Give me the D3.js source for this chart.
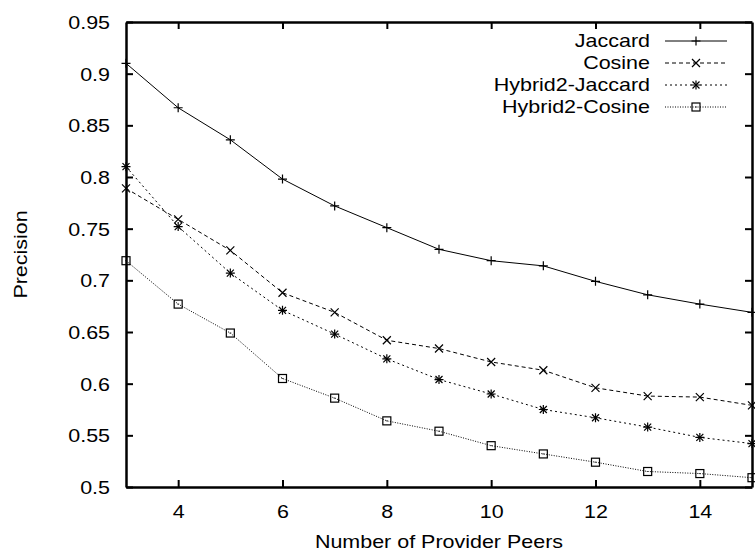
<!DOCTYPE html>
<html>
<head>
<meta charset="utf-8">
<script src="https://cdn.jsdelivr.net/npm/d3@7"></script>
<style>
  body { margin: 0; background: #fff; }
  svg text { font-family: "Liberation Sans", Arial, sans-serif; fill: #000; }
</style>
</head>
<body>
<div id="chart"></div>
<script>
// data
var peers = [3, 4, 5, 6, 7, 8, 9, 10, 11, 12, 13, 14, 15];
var jaccard = [0.910, 0.867, 0.836, 0.798, 0.772, 0.751, 0.730, 0.719, 0.714, 0.699, 0.686, 0.677, 0.669];
var cosine = [0.789, 0.759, 0.729, 0.688, 0.669, 0.642, 0.634, 0.621, 0.613, 0.596, 0.588, 0.587, 0.579];
var hybrid2Jaccard = [0.810, 0.752, 0.707, 0.671, 0.648, 0.624, 0.604, 0.590, 0.575, 0.567, 0.558, 0.548, 0.542];
var hybrid2Cosine = [0.719, 0.677, 0.649, 0.605, 0.586, 0.564, 0.554, 0.540, 0.532, 0.524, 0.515, 0.513, 0.509];
var seriesNames = ["Jaccard", "Cosine", "Hybrid2-Jaccard", "Hybrid2-Cosine"];
var xTicks = [4, 6, 8, 10, 12, 14];
var yTicks = [0.5, 0.55, 0.6, 0.65, 0.7, 0.75, 0.8, 0.85, 0.9, 0.95];

var WIDTH = 755, HEIGHT = 554;
var MARGINS = { top: 22, right: 3, bottom: 67, left: 126 };
var FONT = "18.5px";
var STRETCH = 1.16; // reference glyphs run wider than Arial

var svg = d3.select("#chart").append("svg")
  .attr("width", WIDTH).attr("height", HEIGHT);

var xScale = d3.scaleLinear().domain([3, 15])
  .range([MARGINS.left, WIDTH - MARGINS.right]);
var yScale = d3.scaleLinear().domain([0.5, 0.95])
  .range([HEIGHT - MARGINS.bottom, MARGINS.top]);

var fmt = function(d) { return String(+d.toFixed(2)); };

var styles = [
  { dash: null, marker: "plus" },
  { dash: "4,3", marker: "cross" },
  { dash: "2,3", marker: "star" },
  { dash: "1,1.5", marker: "square" }
];
var allSeries = [jaccard, cosine, hybrid2Jaccard, hybrid2Cosine];

function drawMarker(g, type, cx, cy) {
  var s = 4.5;
  if (type == "plus" || type == "star") {
    g.append("path").attr("d", "M" + (cx - s) + "," + cy + "H" + (cx + s) +
      "M" + cx + "," + (cy - s) + "V" + (cy + s))
      .attr("stroke", "#000").attr("stroke-width", 1.2);
  }
  if (type == "cross" || type == "star") {
    var c = type == "star" ? 3.5 : 4;
    g.append("path").attr("d", "M" + (cx - c) + "," + (cy - c) + "L" + (cx + c) + "," + (cy + c) +
      "M" + (cx - c) + "," + (cy + c) + "L" + (cx + c) + "," + (cy - c))
      .attr("stroke", "#000").attr("stroke-width", 1.2);
  }
  if (type == "square") {
    g.append("rect").attr("x", cx - 4).attr("y", cy - 4)
      .attr("width", 8).attr("height", 8)
      .attr("fill", "none").attr("stroke", "#000").attr("stroke-width", 1.2);
    g.append("rect").attr("x", cx - 1).attr("y", cy - 0.5)
      .attr("width", 2).attr("height", 1).attr("fill", "#444");
  }
}

// clip lines to plot box
svg.append("defs").append("clipPath").attr("id", "clip").append("rect")
  .attr("x", MARGINS.left).attr("y", MARGINS.top)
  .attr("width", WIDTH - MARGINS.right - MARGINS.left)
  .attr("height", HEIGHT - MARGINS.bottom - MARGINS.top);

var lineGen = d3.line()
  .x(function(d) { return xScale(d[0]); })
  .y(function(d) { return yScale(d[1]); });

var body = svg.append("g");
allSeries.forEach(function(vals, i) {
  var pts = peers.map(function(p, j) { return [p, vals[j]]; });
  body.append("path").attr("d", lineGen(pts))
    .attr("fill", "none").attr("stroke", "#000").attr("stroke-width", 1)
    .attr("stroke-dasharray", styles[i].dash)
    .attr("clip-path", "url(#clip)");
  pts.forEach(function(p) {
    drawMarker(body, styles[i].marker, xScale(p[0]), yScale(p[1]));
  });
});

// axes, gnuplot style: inward ticks on all four sides
var xAxis = d3.axisBottom(xScale).tickValues(xTicks).tickFormat(fmt)
  .tickSizeInner(-7).tickSizeOuter(0).tickPadding(18);
var yAxis = d3.axisLeft(yScale).tickValues(yTicks).tickFormat(fmt)
  .tickSizeInner(-7).tickSizeOuter(0).tickPadding(16);

var gX = svg.append("g").attr("transform", "translate(0," + (HEIGHT - MARGINS.bottom) + ")").call(xAxis);
var gY = svg.append("g").attr("transform", "translate(" + MARGINS.left + ",0)").call(yAxis);
var gTop = svg.append("g").attr("transform", "translate(0," + MARGINS.top + ")")
  .call(d3.axisTop(xScale).tickValues(xTicks).tickFormat("").tickSizeInner(-7).tickSizeOuter(0));
var gRight = svg.append("g").attr("transform", "translate(" + (WIDTH - MARGINS.right) + ",0)")
  .call(d3.axisRight(yScale).tickValues(yTicks).tickFormat("").tickSizeInner(-7).tickSizeOuter(0));

[gX, gY, gTop, gRight].forEach(function(g) {
  g.select(".domain").attr("stroke", "#000").attr("stroke-width", 2.5);
  g.selectAll(".tick line").attr("stroke", "#000").attr("stroke-width", 2);
  g.selectAll("text").attr("font-family", null).attr("font-size", null).attr("fill", "#000");
});
gY.selectAll(".tick text").attr("dy", "0.35em");

// axis titles
svg.append("text")
  .attr("x", (MARGINS.left + WIDTH - MARGINS.right) / 2)
  .attr("y", 548)
  .attr("text-anchor", "middle")
  .text("Number of Provider Peers");

svg.append("text")
  .attr("transform", "translate(27," + ((MARGINS.top + HEIGHT - MARGINS.bottom) / 2) + ") rotate(-90)")
  .attr("text-anchor", "middle")
  .text("Precision");

// legend
var legend = svg.append("g").attr("class", "legend");
seriesNames.forEach(function(name, i) {
  var ly = 41 + i * 22;
  legend.append("text").attr("x", 650).attr("y", ly).attr("dy", "0.35em")
    .attr("text-anchor", "end").text(name);
  legend.append("path").attr("d", "M665," + ly + "H727")
    .attr("fill", "none").attr("stroke", "#000").attr("stroke-width", 1)
    .attr("stroke-dasharray", styles[i].dash);
  drawMarker(legend, styles[i].marker, 696, ly);
});

// widen every label a bit to match the reference lettering
svg.selectAll("text").style("font-size", FONT).each(function() {
  var w = this.getComputedTextLength();
  if (w > 0) {
    d3.select(this).attr("textLength", w * STRETCH).attr("lengthAdjust", "spacingAndGlyphs");
  }
});
</script>
</body>
</html>
